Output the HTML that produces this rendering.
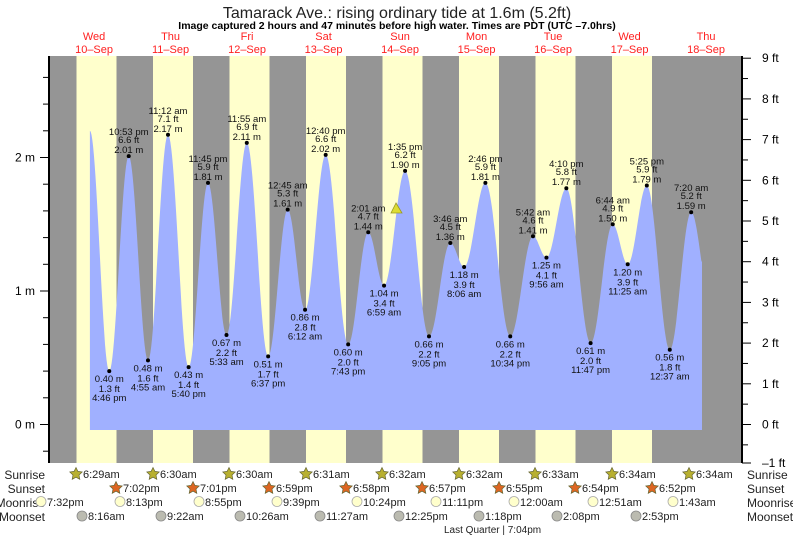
<!DOCTYPE html>
<html><head><meta charset="utf-8"><style>
html,body{margin:0;padding:0;background:#fff;}
svg{display:block;font-family:"Liberation Sans",sans-serif;}
</style></head><body>
<svg id="s" width="793" height="538" xmlns="http://www.w3.org/2000/svg"></svg>
<script>
const s=document.getElementById('s');
let h='';
const X0=55.8,PX=3.1875;
const tx=t=>X0+t*PX, ty=m=>424.5-m*133.5;
h+=`<rect x="49" y="56" width="693" height="407" fill="#959595"/>`;
const yb=[76.5,153,229.5,306,382.5,459,535.5,612];
yb.forEach(x=>{h+=`<rect x="${x}" y="56" width="40" height="407" fill="#ffffcc"/>`;});
const E=[[10.7,2.2],[16.77,0.40],[22.88,2.01],[28.92,0.48],[35.2,2.17],[41.67,0.43],[47.75,1.81],[53.55,0.67],[59.92,2.11],[66.62,0.51],[72.75,1.61],[78.2,0.86],[84.67,2.02],[91.72,0.60],[98.02,1.44],[102.98,1.04],[109.58,1.90],[117.08,0.66],[123.77,1.36],[128.1,1.18],[134.77,1.81],[142.57,0.66],[149.7,1.41],[153.93,1.25],[160.17,1.77],[167.78,0.61],[174.73,1.50],[179.42,1.20],[185.42,1.79],[192.62,0.56],[199.33,1.59],[205.5,0.9]];
const tEnd=(702-X0)/PX;
let p=`M${tx(E[0][0]).toFixed(1)},430`;
for(let i=0;i<E.length-1;i++){const[a,va]=E[i],[b,vb]=E[i+1];
 for(let t=a;t<b;t+=0.25){if(t>tEnd)break;const f=(1-Math.cos(Math.PI*(t-a)/(b-a)))/2;p+=`L${tx(t).toFixed(1)},${ty(va+(vb-va)*f).toFixed(1)}`;}}
p+=`L702,${ty(1.23)}L702,430Z`;
h+=`<path d="${p}" fill="#a0b0ff"/>`;
const L=[["4:46 pm","1.3",0.40,16.77,0],["10:53 pm","6.6",2.01,22.88,1],["4:55 am","1.6",0.48,28.92,0],["11:12 am","7.1",2.17,35.2,1],["5:40 pm","1.4",0.43,41.67,0],["11:45 pm","5.9",1.81,47.75,1],["5:33 am","2.2",0.67,53.55,0],["11:55 am","6.9",2.11,59.92,1],["6:37 pm","1.7",0.51,66.62,0],["12:45 am","5.3",1.61,72.75,1],["6:12 am","2.8",0.86,78.2,0],["12:40 pm","6.6",2.02,84.67,1],["7:43 pm","2.0",0.60,91.72,0],["2:01 am","4.7",1.44,98.02,1],["6:59 am","3.4",1.04,102.98,0],["1:35 pm","6.2",1.90,109.58,1],["9:05 pm","2.2",0.66,117.08,0],["3:46 am","4.5",1.36,123.77,1],["8:06 am","3.9",1.18,128.1,0],["2:46 pm","5.9",1.81,134.77,1],["10:34 pm","2.2",0.66,142.57,0],["5:42 am","4.6",1.41,149.7,1],["9:56 am","4.1",1.25,153.93,0],["4:10 pm","5.8",1.77,160.17,1],["11:47 pm","2.0",0.61,167.78,0],["6:44 am","4.9",1.50,174.73,1],["11:25 am","3.9",1.20,179.42,0],["5:25 pm","5.9",1.79,185.42,1],["12:37 am","1.8",0.56,192.62,0],["7:20 am","5.2",1.59,199.33,1]];
L.forEach(([t,f,m,hr,hi])=>{const x=tx(hr),y=ty(m);
 h+=`<circle cx="${x}" cy="${y}" r="2" fill="#000"/>`;
 const ms=m.toFixed(2)+" m",fs=f+" ft";
 const lines=hi?[[t,-21],[fs,-13],[ms,-3]]:[[ms,11],[fs,21],[t,30]];
 lines.forEach(([tx_,dy])=>{h+=`<text x="${x}" y="${y+dy}" font-size="9.5" text-anchor="middle" fill="#111">${tx_}</text>`;});
});
h+=`<polygon points="396,203 391,213 402,213" fill="#dddd33" stroke="#999922" stroke-width="0.8"/>`;
h+=`<line x1="49" y1="56" x2="49" y2="463" stroke="#000" stroke-width="2"/>`;
h+=`<line x1="742" y1="56" x2="742" y2="463" stroke="#000" stroke-width="2"/>`;
for(let i=-1;i<=14;i++){const m=i*0.2;const y=ty(m);if(y<56||y>463)continue;const maj=i%5==0;
 h+=`<line x1="${maj?40:43}" y1="${y}" x2="49" y2="${y}" stroke="#000"/>`;
 if(maj)h+=`<text x="35" y="${y+4}" font-size="12" text-anchor="end">${m.toFixed(0)} m</text>`;}
for(let i=-2;i<=18;i++){const ft=i*0.5;let y=424.5-ft*40.7;if(y<50||y>470)continue;y=Math.min(Math.max(y,56),463);const maj=i%2==0;
 h+=`<line x1="742" y1="${y}" x2="${maj?751:748}" y2="${y}" stroke="#000"/>`;
 if(maj)h+=`<text x="762" y="${y+4}" font-size="12">${ft==-1?'–1':ft} ft</text>`;}
h+=`<text x="397" y="18" font-size="16" text-anchor="middle" fill="#222">Tamarack Ave.: rising  ordinary tide at 1.6m (5.2ft)</text>`;
h+=`<text x="397" y="29" font-size="10.5" font-weight="bold" text-anchor="middle">Image captured 2 hours and 47 minutes before high water. Times are PDT (UTC –7.0hrs)</text>`;
const dn=["Wed","Thu","Fri","Sat","Sun","Mon","Tue","Wed","Thu"],dd=["10","11","12","13","14","15","16","17","18"];
dn.forEach((d,i)=>{const x=tx(12+24*i);h+=`<text x="${x}" y="40" font-size="11" fill="#ff2020" text-anchor="middle">${d}</text><text x="${x}" y="53" font-size="11" fill="#ff2020" text-anchor="middle">${dd[i]}–Sep</text>`;});
[["Sunrise",479],["Sunset",493],["Moonrise",507],["Moonset",521]].forEach(([n,y])=>{
 h+=`<text x="45" y="${y}" font-size="12" text-anchor="end" fill="#222">${n}</text><text x="747" y="${y}" font-size="12" fill="#222">${n}</text>`;});
function star(x,y,fill){let pts=[];for(let k=0;k<10;k++){const r=k%2?3.2:6.5,a=-Math.PI/2+k*Math.PI/5;pts.push((x+r*Math.cos(a)).toFixed(1)+','+(y+r*Math.sin(a)).toFixed(1));}return `<polygon points="${pts.join(' ')}" fill="${fill}" stroke="#666633" stroke-width="0.7"/>`;}
const sr=[[76,"6:29am"],[153,"6:30am"],[229,"6:30am"],[306,"6:31am"],[382,"6:32am"],[459,"6:32am"],[535,"6:33am"],[612,"6:34am"],[689,"6:34am"]];
sr.forEach(([x,t])=>{h+=star(x,474,"#b8b030")+`<text x="${x+7}" y="478" font-size="11" fill="#222">${t}</text>`;});
const ss=[[116,"7:02pm"],[193,"7:01pm"],[269,"6:59pm"],[346,"6:58pm"],[422,"6:57pm"],[499,"6:55pm"],[575,"6:54pm"],[652,"6:52pm"]];
ss.forEach(([x,t])=>{h+=star(x,488,"#dd6622")+`<text x="${x+7}" y="492" font-size="11" fill="#222">${t}</text>`;});
const mr=[[41,"7:32pm"],[120,"8:13pm"],[199,"8:55pm"],[277,"9:39pm"],[357,"10:24pm"],[436,"11:11pm"],[514,"12:00am"],[593,"12:51am"],[673,"1:43am"]];
mr.forEach(([x,t])=>{h+=`<circle cx="${x}" cy="501.5" r="5" fill="#ffffcc" stroke="#aaa" stroke-width="0.8"/><text x="${x+6}" y="506" font-size="11" fill="#222">${t}</text>`;});
const mo=[[82,"8:16am"],[161,"9:22am"],[240,"10:26am"],[320,"11:27am"],[399,"12:25pm"],[479,"1:18pm"],[557,"2:08pm"],[636,"2:53pm"]];
mo.forEach(([x,t])=>{h+=`<circle cx="${x}" cy="516" r="5" fill="#bbbbb0" stroke="#888" stroke-width="0.8"/><text x="${x+6}" y="520" font-size="11" fill="#222">${t}</text>`;});
h+=`<text x="444" y="533" font-size="10" fill="#222">Last Quarter | 7:04pm</text>`;
s.innerHTML=h;
</script>
</body></html>
